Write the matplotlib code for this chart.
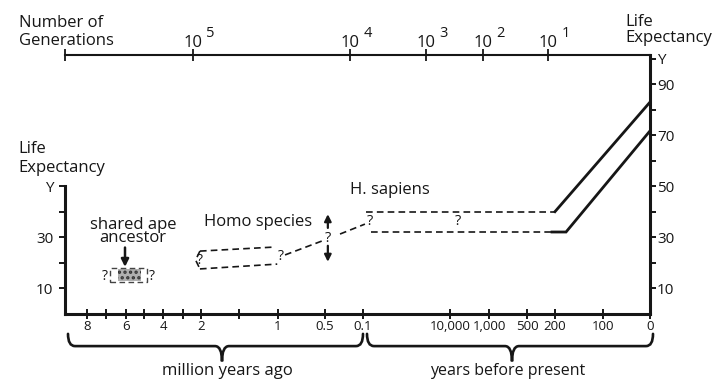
import numpy as np
import matplotlib.pyplot as plt
from matplotlib.path import Path
from matplotlib.patches import PathPatch, Rectangle

plt.rcParams['font.family'] = ['Open Sans', 'DejaVu Sans']
plt.rcParams['hatch.linewidth'] = 1.6
INK = '#161616'

# time scale of the bottom axis (years before present) and tick labels
tick_years = [8e6, 7e6, 6e6, 5e6, 4e6, 3e6, 2e6, 1.5e6, 1e6, 5e5, 1e5, 1e4, 1e3, 500, 200, 100, 0]
tick_labels = ['8', '', '6', '', '4', '', '2', '', '1', '0.5', '0.1',
               '10,000', '1,000', '500', '200', '100', '0']
# number of generations on the top axis
gen_exponents = [5, 4, 3, 2, 1]

# life expectancy ticks
left_ticks = [10, 20, 30, 40, 50]
left_labels = ['10', '', '30', '', 'Y']
right_ticks = [10, 20, 30, 40, 50, 60, 70, 80, 90, 100]
right_labels = ['10', '', '30', '', '50', '', '70', '', '90', 'Y']

# shared ape ancestor (years, life expectancy)
ape_years = [6.4e6, 5.17e6]
ape_le = [12.8, 17.4]
ape_outline_years = [6.8e6, 4.84e6]
ape_outline_le = [12.2, 17.9]

# Homo species band
homo_top_years = [2.06e6, 1.04e6]
homo_top_le = [24.5, 26.1]
homo_bot_years = [2.06e6, 1.01e6]
homo_bot_le = [17.5, 19.4]
homo_left_years = [2.06e6, 2.3e6, 2.06e6]
homo_left_le = [24.5, 21.0, 17.5]
link1_years = [0.925e6, 0.53e6]
link1_le = [23.0, 28.5]
link2_years = [3.42e5, 0.98e5]
link2_le = [31.2, 35.1]

# H. sapiens
upper_dash_years = [9.7e4, 200]
upper_dash_le = [40, 40]
upper_solid_years = [200, 0]
upper_solid_le = [40, 83]
lower_dash_years = [9.2e4, 232]
lower_dash_le = [32, 32]
lower_solid_years = [232, 177, 0]
lower_solid_le = [32, 32, 71.7]

# ---- layout (positions along the axis, in pixels from the left spine)
tick_pos = [22, 41, 61, 79, 98, 118, 136, 174, 213, 260, 298, 385, 424, 462, 490, 538, 585]
gen_pos = [128, 285, 361, 418, 483]


def pos(years):
    ky = np.array(tick_years)[::-1]
    kp = np.array(tick_pos)[::-1]
    return np.interp(years, ky, kp)


fig = plt.figure(figsize=(7.25, 3.87), dpi=100)
ax = fig.add_axes([65 / 725, (387 - 313.5) / 387, 585 / 725, 258.5 / 387])
ax.set_xlim(0, 585)
ax.set_ylim(0, 101.5)

for s in ['top', 'right']:
    ax.spines[s].set_visible(False)
ax.spines['left'].set_bounds(0, 50)
ax.spines['left'].set_linewidth(2.2)
ax.spines['bottom'].set_linewidth(2.2)
ax.spines['left'].set_color(INK)
ax.spines['bottom'].set_color(INK)

ax.set_xticks(tick_pos, tick_labels)
ax.tick_params(axis='x', direction='inout', length=7, width=1.4, pad=1,
               labelsize=9.5, colors=INK)
ax.set_yticks(left_ticks, left_labels)
ax.tick_params(axis='y', direction='out', length=4.5, width=1.4, pad=4,
               labelsize=11, colors=INK)

# right axis
rax = ax.twinx()
rax.set_ylim(ax.get_ylim())
for s in ['top', 'left', 'bottom']:
    rax.spines[s].set_visible(False)
rax.spines['right'].set_linewidth(2.2)
rax.spines['right'].set_color(INK)
rax.set_yticks(right_ticks, right_labels)
rax.tick_params(axis='y', direction='out', length=4, width=1.4, pad=1,
                labelsize=11, colors=INK)

# top axis: number of generations
tax = ax.secondary_xaxis('top')
tax.spines['top'].set_linewidth(1.5)
tax.spines['top'].set_color(INK)
tax.set_xticks([0] + gen_pos, [''] + ['10'] * len(gen_pos))
tax.tick_params(axis='x', direction='inout', length=8, width=1.3, pad=-1,
                labelsize=12, colors=INK)
for p, e in zip(gen_pos, gen_exponents):
    ax.annotate(str(e), xy=(p, 1), xycoords=('data', 'axes fraction'),
                xytext=(12.5, 15.5), textcoords='offset points',
                ha='center', va='center', fontsize=10.5, color=INK)

fig.text(19 / 725, 1 - 32 / 387, 'Number of\nGenerations', fontsize=12,
         va='center', ha='left', color=INK, linespacing=1.15)
fig.text(625 / 725, 1 - 30 / 387, 'Life\nExpectancy', fontsize=12,
         va='center', ha='left', color=INK, linespacing=1.05)
fig.text(18 / 725, 1 - 158.5 / 387, 'Life\nExpectancy', fontsize=12,
         va='center', ha='left', color=INK, linespacing=1.2)

dash = (0, (4, 2.5))
txt = dict(ha='center', va='center', color=INK)

# shared ape ancestor
x0, x1 = pos(ape_years)
ax.add_patch(Rectangle((x0, ape_le[0]), x1 - x0, ape_le[1] - ape_le[0],
                       facecolor='#b0b0b0', edgecolor='#333333', hatch='...', lw=0))
ox0, ox1 = pos(ape_outline_years)
ax.add_patch(Rectangle((ox0, ape_outline_le[0]), ox1 - ox0,
                       ape_outline_le[1] - ape_outline_le[0], fill=False,
                       edgecolor='#444', lw=1.0, ls=dash))
ax.text(pos(7.05e6), 14.7, '?', fontsize=10, **txt)
ax.text(pos(4.58e6), 14.7, '?', fontsize=10, **txt)
ax.annotate('', xy=(pos(6.05e6), 18.3), xytext=(pos(6.05e6), 25.9),
            arrowprops=dict(arrowstyle='-|>', lw=1.8, color=INK,
                            mutation_scale=11, shrinkA=0, shrinkB=0))
ax.text(pos(5.6e6), 32.2, 'shared ape\nancestor', fontsize=12,
        linespacing=0.72, **txt)

# Homo species
for xs, ys in [(homo_top_years, homo_top_le), (homo_bot_years, homo_bot_le),
               (homo_left_years, homo_left_le), (link1_years, link1_le),
               (link2_years, link2_le)]:
    ax.plot(pos(xs), ys, color=INK, lw=1.2, ls=dash)
ax.text(pos(2.04e6), 21.0, '?', fontsize=10, **txt)
ax.text(pos(0.97e6), 22.4, '?', fontsize=10, **txt)
ax.text(pos(4.7e5), 29.4, '?', fontsize=10.5, **txt)
ax.annotate('', xy=(pos(4.7e5), 39.0), xytext=(pos(4.7e5), 33.6),
            arrowprops=dict(arrowstyle='-|>', lw=1.6, color=INK,
                            mutation_scale=10, shrinkA=0, shrinkB=0))
ax.annotate('', xy=(pos(4.7e5), 20.3), xytext=(pos(4.7e5), 26.6),
            arrowprops=dict(arrowstyle='-|>', lw=1.6, color=INK,
                            mutation_scale=10, shrinkA=0, shrinkB=0))
ax.text(pos(1.26e6), 35.8, 'Homo species', fontsize=12, **txt)

# H. sapiens
ax.plot(pos(upper_dash_years), upper_dash_le, color=INK, lw=1.2, ls=dash)
ax.plot(pos(lower_dash_years), lower_dash_le, color=INK, lw=1.2, ls=dash)
ax.plot(pos(upper_solid_years), upper_solid_le, color=INK, lw=2.0,
        solid_joinstyle='miter', clip_on=False)
ax.plot(pos(lower_solid_years), lower_solid_le, color=INK, lw=2.0,
        solid_joinstyle='miter', clip_on=False)
ax.text(pos(9.28e4), 36.2, '?', fontsize=10.5, **txt)
ax.text(pos(8.15e3), 36.0, '?', fontsize=10.5, **txt)
ax.text(pos(7.2e4), 48.5, 'H. sapiens', fontsize=12, **txt)


# braces under the time axis
def brace(xa, xb, xm, y_top=-8.0, y_bar=-12.8, y_tip=-18.8, r=7):
    verts = [(xa, y_top), (xa, y_bar), (xa + r, y_bar),
             (xm - r, y_bar),
             (xm, y_bar), (xm, y_tip),
             (xm, y_bar), (xm + r, y_bar),
             (xb - r, y_bar),
             (xb, y_bar), (xb, y_top)]
    codes = [Path.MOVETO, Path.CURVE3, Path.CURVE3,
             Path.LINETO,
             Path.CURVE3, Path.CURVE3,
             Path.CURVE3, Path.CURVE3,
             Path.LINETO,
             Path.CURVE3, Path.CURVE3]
    ax.add_patch(PathPatch(Path(verts, codes), fill=False, lw=1.9,
                           edgecolor=INK, clip_on=False, capstyle='round'))


brace(3, pos(1e5), 157)
brace(pos(1e5) + 4, pos(0) + 3, 447)
ax.text(162, -22.4, 'million years ago', fontsize=12, clip_on=False, **txt)
ax.text(443, -22.4, 'years before present', fontsize=11.5, clip_on=False, **txt)

fig.savefig('out.png', dpi=100)
